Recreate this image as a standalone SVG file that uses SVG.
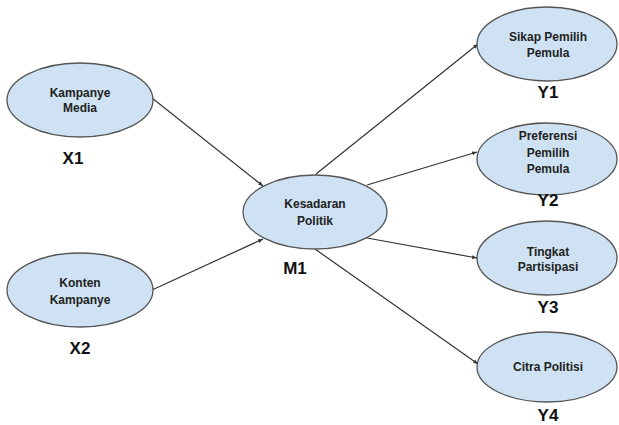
<svg xmlns="http://www.w3.org/2000/svg" width="619" height="425" viewBox="0 0 619 425">
<style>
.n{fill:#cfe2f3;stroke:#555;stroke-width:1.3}
.t{font-family:"Liberation Sans",Arial,sans-serif;font-weight:bold;font-size:12px;fill:#222;text-anchor:middle}
.l{font-family:"Liberation Sans",Arial,sans-serif;font-weight:bold;font-size:17px;fill:#111;text-anchor:middle}
.c{stroke:#333;stroke-width:1.2;fill:none;marker-end:url(#a)}
</style>
<defs>
<marker id="a" viewBox="0 0 10 10" refX="10" refY="5" markerWidth="5" markerHeight="5" orient="auto" markerUnits="userSpaceOnUse">
<path d="M0,1 L10,5 L0,9 Z" fill="#333"/>
</marker>
</defs>
<rect width="619" height="425" fill="#fff"/>
<g id="connectors">
<line class="c" x1="152" y1="98" x2="263" y2="186"/>
<line class="c" x1="152" y1="290" x2="263" y2="239"/>
<line class="c" x1="316" y1="174" x2="478" y2="44"/>
<line class="c" x1="367" y1="185" x2="477" y2="152"/>
<line class="c" x1="367" y1="238" x2="477" y2="258"/>
<line class="c" x1="315" y1="249" x2="478" y2="364"/>
</g>
<g id="X1">
<ellipse class="n" cx="80" cy="100" rx="73" ry="37"/>
<text class="t" x="80" y="97">Kampanye</text>
<text class="t" x="80" y="112">Media</text>
<text class="l" x="73" y="164">X1</text>
</g>
<g id="X2">
<ellipse class="n" cx="80" cy="290" rx="73" ry="37"/>
<text class="t" x="80" y="287">Konten</text>
<text class="t" x="80" y="304">Kampanye</text>
<text class="l" x="80" y="354">X2</text>
</g>
<g id="M1">
<ellipse class="n" cx="315" cy="212" rx="72" ry="37"/>
<text class="t" x="315" y="208">Kesadaran</text>
<text class="t" x="315" y="225">Politik</text>
<text class="l" x="295" y="274">M1</text>
</g>
<g id="Y1">
<ellipse class="n" cx="547" cy="44" rx="70" ry="37"/>
<text class="t" x="548" y="41">Sikap Pemilih</text>
<text class="t" x="548" y="57">Pemula</text>
<text class="l" x="548" y="98">Y1</text>
</g>
<g id="Y2">
<ellipse class="n" cx="547" cy="159" rx="70" ry="36"/>
<text class="t" x="548" y="140">Preferensi</text>
<text class="t" x="548" y="157">Pemilih</text>
<text class="t" x="548" y="173">Pemula</text>
<text class="l" x="548" y="206">Y2</text>
</g>
<g id="Y3">
<ellipse class="n" cx="547" cy="258" rx="70" ry="37"/>
<text class="t" x="548" y="256">Tingkat</text>
<text class="t" x="548" y="271">Partisipasi</text>
<text class="l" x="548" y="313">Y3</text>
</g>
<g id="Y4">
<ellipse class="n" cx="547" cy="367" rx="70" ry="35"/>
<text class="t" x="548" y="371">Citra Politisi</text>
<text class="l" x="548" y="421">Y4</text>
</g>
</svg>
